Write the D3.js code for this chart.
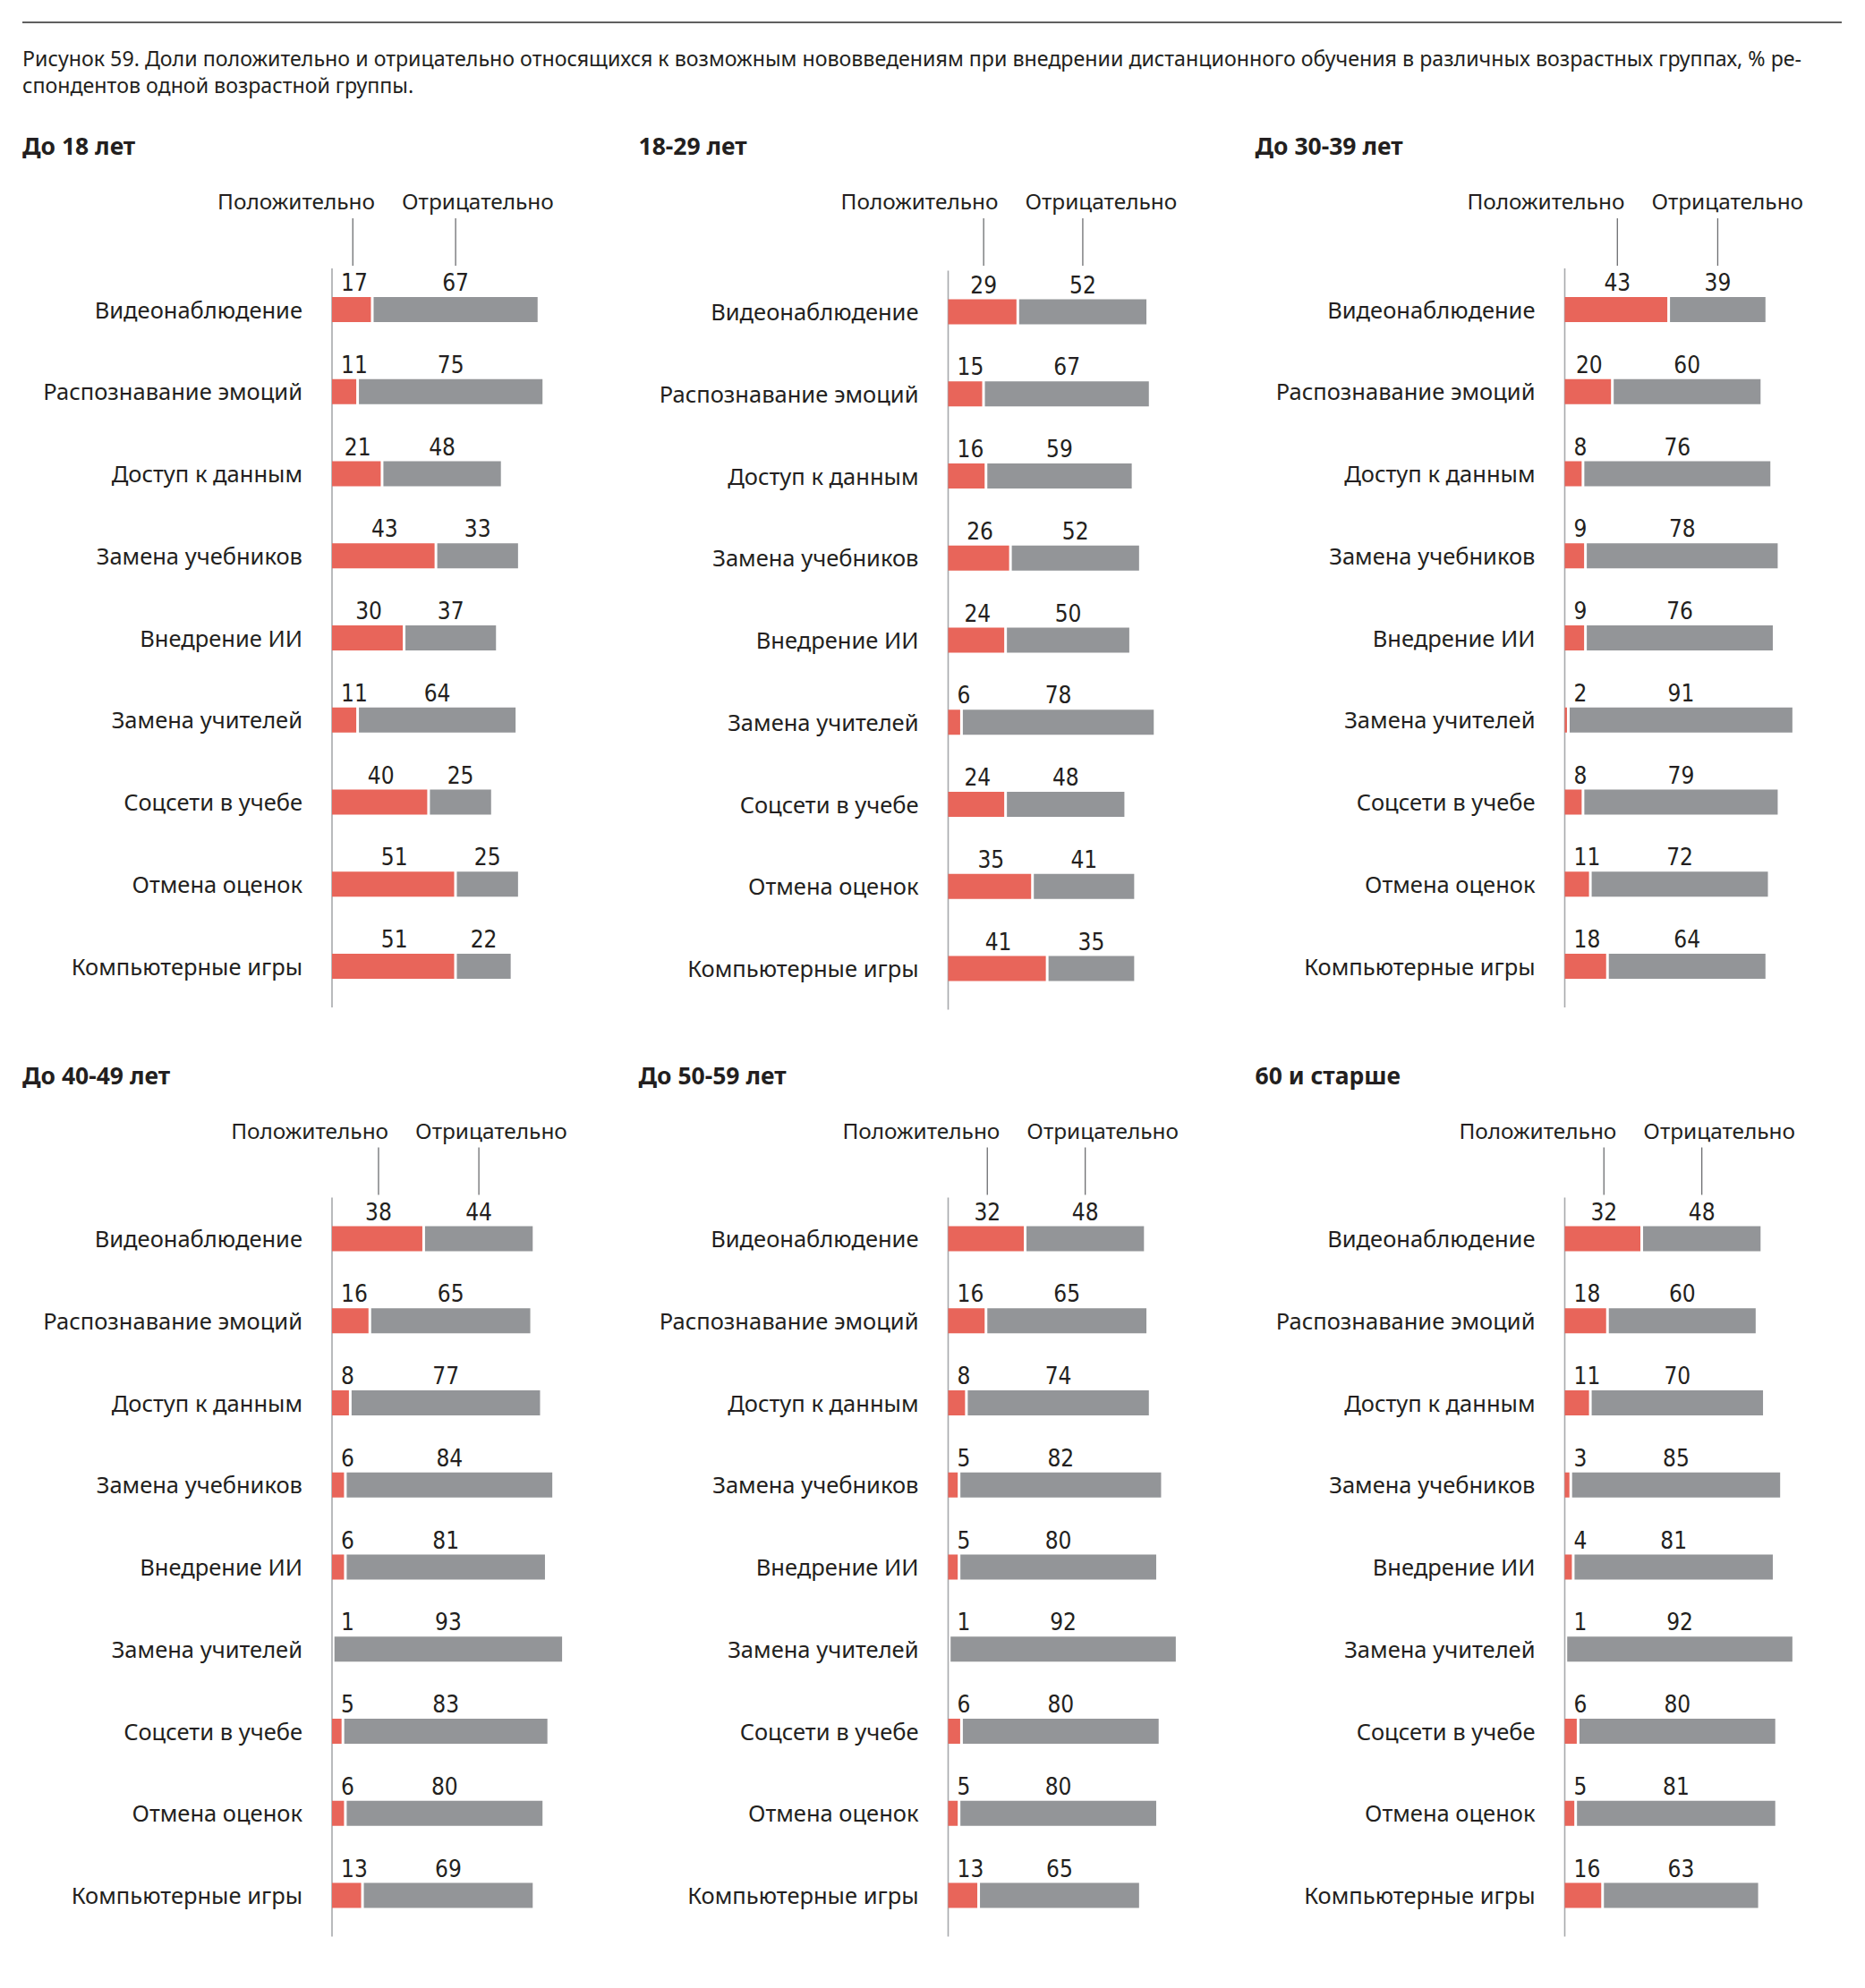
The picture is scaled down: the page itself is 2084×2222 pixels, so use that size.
<!DOCTYPE html>
<html><head><meta charset="utf-8">
<script src="https://cdn.jsdelivr.net/npm/d3@7"></script>
<style>
html,body{margin:0;padding:0;background:#fff;}
svg{display:block;}
</style></head>
<body>
<script>
const titleLines = [
  "Рисунок 59. Доли положительно и отрицательно относящихся к возможным нововведениям при внедрении дистанционного обучения в различных возрастных группах, % ре-",
  "спондентов одной возрастной группы."
];
const legendLabels = ["Положительно", "Отрицательно"];
const groups = ["До 18 лет", "18-29 лет", "До 30-39 лет", "До 40-49 лет", "До 50-59 лет", "60 и старше"];
const categories = ["Видеонаблюдение","Распознавание эмоций","Доступ к данным","Замена учебников","Внедрение ИИ","Замена учителей","Соцсети в учебе","Отмена оценок","Компьютерные игры"];

const pos18 = [17,11,21,43,30,11,40,51,51];
const neg18 = [67,75,48,33,37,64,25,25,22];
const pos1829 = [29,15,16,26,24,6,24,35,41];
const neg1829 = [52,67,59,52,50,78,48,41,35];
const pos3039 = [43,20,8,9,9,2,8,11,18];
const neg3039 = [39,60,76,78,76,91,79,72,64];
const pos4049 = [38,16,8,6,6,1,5,6,13];
const neg4049 = [44,65,77,84,81,93,83,80,69];
const pos5059 = [32,16,8,5,5,1,6,5,13];
const neg5059 = [48,65,74,82,80,92,80,80,65];
const pos60 = [32,18,11,3,4,1,6,5,16];
const neg60 = [48,60,70,85,81,92,80,81,63];

const positives = [pos18,pos1829,pos3039,pos4049,pos5059,pos60];
const negatives = [neg18,neg1829,neg3039,neg4049,neg5059,neg60];

const W = 2084, H = 2222;
const RED = "#e8655a", GREY = "#939598", TXT = "#231f20";
const TEXT_FONT = "'Noto Sans', 'Open Sans', sans-serif";
const NUM_FONT = "'Liberation Sans Narrow', 'DejaVu Sans Condensed', sans-serif";

const svg = d3.select("body").append("svg").attr("width", W).attr("height", H);

// top rule
svg.append("line").attr("x1", 25).attr("x2", 2058).attr("y1", 25).attr("y2", 25)
  .attr("stroke", "#2b2b2b").attr("stroke-width", 1.6);

// title
svg.append("text").attr("x", 25).attr("y", 74)
  .attr("font-family", TEXT_FONT).attr("font-size", 23.2).attr("fill", TXT)
  .attr("textLength", 1988).attr("lengthAdjust", "spacing")
  .text(titleLines[0]);
svg.append("text").attr("x", 25).attr("y", 104)
  .attr("font-family", TEXT_FONT).attr("font-size", 23.2).attr("fill", TXT)
  .text(titleLines[1]);

const x = d3.scaleLinear().domain([0, 100]).range([0, 273.5]);
const rowStep = 91.75, barH = 28;
const y = d3.scaleBand().domain(categories)
  .range([0, rowStep * (categories.length - 1) + barH])
  .paddingInner(1 - barH / rowStep).paddingOuter(0);

const colAxis = [371, 1059.5, 1748.5];
const rowTop = [332, 1370.5];
const yNudge = [0, 2.5, 0, 0, 0, 0];

groups.forEach((gname, gi) => {
  const ax = colAxis[gi % 3];
  const top = rowTop[Math.floor(gi / 3)];
  const g = svg.append("g").attr("transform", `translate(${ax},${top})`);
  const gb = g.append("g").attr("transform", `translate(0,${yNudge[gi]})`);
  const P = positives[gi], N = negatives[gi];

  // group title
  g.append("text").attr("x", -346).attr("y", -159)
    .attr("font-family", TEXT_FONT).attr("font-weight", 700).attr("font-size", 26.5)
    .attr("fill", TXT).text(gname);

  // legend
  const pl = x(P[0]) / 2;
  const nl = x(P[0]) + x(N[0]) / 2;
  const mid = 18.7 + 0.55 * (pl + nl) / 2;
  [pl, nl].forEach(lx => {
    g.append("line").attr("x1", lx).attr("x2", lx).attr("y1", -88).attr("y2", -35)
      .attr("stroke", "#6d6e71").attr("stroke-width", 1.3);
  });
  g.append("text").attr("x", mid - 15).attr("y", -98).attr("text-anchor", "end")
    .attr("font-family", TEXT_FONT).attr("font-size", 24.4).attr("fill", TXT).text(legendLabels[0]);
  g.append("text").attr("x", mid + 15).attr("y", -98).attr("text-anchor", "start")
    .attr("font-family", TEXT_FONT).attr("font-size", 24.4).attr("fill", TXT).text(legendLabels[1]);

  // axis line
  gb.append("line").attr("x1", 0).attr("x2", 0)
    .attr("y1", -32).attr("y2", y.range()[1] + 32)
    .attr("stroke", "#a7a9ac").attr("stroke-width", 1.6);

  const rows = categories.map((c, i) => ({c, p: P[i], n: N[i]}));
  const r = gb.selectAll("g.row").data(rows).join("g").attr("class", "row")
    .attr("transform", d => `translate(0,${y(d.c)})`);

  r.append("text").attr("x", -33).attr("y", barH / 2 + 9.5).attr("text-anchor", "end")
    .attr("font-family", TEXT_FONT).attr("font-size", 25.5).attr("fill", TXT)
    .text(d => d.c);

  r.append("rect").attr("x", 0).attr("y", 0)
    .attr("width", d => Math.max(0, x(d.p) - 3)).attr("height", barH).attr("fill", RED);
  r.append("rect").attr("x", d => x(d.p)).attr("y", 0)
    .attr("width", d => x(d.n)).attr("height", barH).attr("fill", GREY);

  // value labels
  r.append("text").attr("y", -7).attr("text-anchor", "middle")
    .attr("font-family", NUM_FONT).attr("font-size", 26).attr("fill", TXT)
    .text(d => d.p)
    .attr("x", function(d) {
      const w = this.getComputedTextLength();
      return Math.max(x(d.p) / 2, 10 + w / 2);
    });
  r.append("text").attr("y", -7).attr("text-anchor", "middle")
    .attr("font-family", NUM_FONT).attr("font-size", 26).attr("fill", TXT)
    .attr("x", d => x(d.p) + x(d.n) / 2)
    .text(d => d.n);
});
</script>
</body></html>
